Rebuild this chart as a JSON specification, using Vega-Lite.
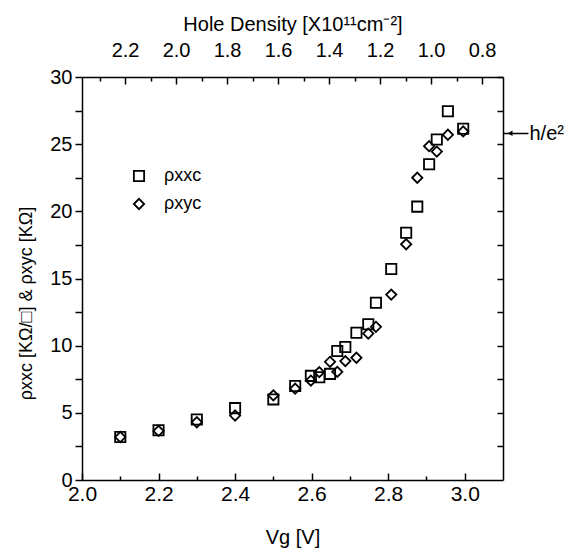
{
  "$schema": "https://vega.github.io/schema/vega-lite/v6.json",
  "width": 421,
  "height": 403,
  "autosize": {"type": "none"},
  "padding": {"left": 82, "top": 77, "right": 66, "bottom": 70},
  "background": "white",
  "config": {
    "view": {"stroke": null},
    "font": "Liberation Sans",
    "axis": {
      "grid": false,
      "domainColor": "black",
      "domainWidth": 1.5,
      "tickColor": "black",
      "tickWidth": 1.5,
      "labelColor": "black",
      "titleColor": "black",
      "labelFont": "Liberation Sans",
      "titleFont": "Liberation Sans",
      "titleFontWeight": "normal",
      "labelFlush": false,
      "labelOverlap": false
    },
    "legend": {"labelFont": "Liberation Sans"}
  },
  "datasets": {
    "points": [
      {"Vg": 2.1, "rho": 3.2, "quantity": "ρxxc"},
      {"Vg": 2.2, "rho": 3.7, "quantity": "ρxxc"},
      {"Vg": 2.3, "rho": 4.5, "quantity": "ρxxc"},
      {"Vg": 2.4, "rho": 5.35, "quantity": "ρxxc"},
      {"Vg": 2.5, "rho": 6.0, "quantity": "ρxxc"},
      {"Vg": 2.557, "rho": 7.0, "quantity": "ρxxc"},
      {"Vg": 2.598, "rho": 7.75, "quantity": "ρxxc"},
      {"Vg": 2.62, "rho": 7.65, "quantity": "ρxxc"},
      {"Vg": 2.648, "rho": 7.9, "quantity": "ρxxc"},
      {"Vg": 2.667, "rho": 9.6, "quantity": "ρxxc"},
      {"Vg": 2.688, "rho": 9.9, "quantity": "ρxxc"},
      {"Vg": 2.717, "rho": 10.96, "quantity": "ρxxc"},
      {"Vg": 2.748, "rho": 11.6, "quantity": "ρxxc"},
      {"Vg": 2.768, "rho": 13.2, "quantity": "ρxxc"},
      {"Vg": 2.808, "rho": 15.7, "quantity": "ρxxc"},
      {"Vg": 2.847, "rho": 18.4, "quantity": "ρxxc"},
      {"Vg": 2.876, "rho": 20.35, "quantity": "ρxxc"},
      {"Vg": 2.907, "rho": 23.5, "quantity": "ρxxc"},
      {"Vg": 2.927, "rho": 25.35, "quantity": "ρxxc"},
      {"Vg": 2.956, "rho": 27.45, "quantity": "ρxxc"},
      {"Vg": 2.996, "rho": 26.15, "quantity": "ρxxc"},
      {"Vg": 2.1, "rho": 3.2, "quantity": "ρxyc"},
      {"Vg": 2.2, "rho": 3.65, "quantity": "ρxyc"},
      {"Vg": 2.3, "rho": 4.3, "quantity": "ρxyc"},
      {"Vg": 2.4, "rho": 4.8, "quantity": "ρxyc"},
      {"Vg": 2.5, "rho": 6.3, "quantity": "ρxyc"},
      {"Vg": 2.557, "rho": 6.8, "quantity": "ρxyc"},
      {"Vg": 2.598, "rho": 7.4, "quantity": "ρxyc"},
      {"Vg": 2.62, "rho": 8.03, "quantity": "ρxyc"},
      {"Vg": 2.648, "rho": 8.8, "quantity": "ρxyc"},
      {"Vg": 2.667, "rho": 8.05, "quantity": "ρxyc"},
      {"Vg": 2.688, "rho": 8.85, "quantity": "ρxyc"},
      {"Vg": 2.717, "rho": 9.1, "quantity": "ρxyc"},
      {"Vg": 2.748, "rho": 10.9, "quantity": "ρxyc"},
      {"Vg": 2.768, "rho": 11.4, "quantity": "ρxyc"},
      {"Vg": 2.808, "rho": 13.8, "quantity": "ρxyc"},
      {"Vg": 2.847, "rho": 17.55, "quantity": "ρxyc"},
      {"Vg": 2.876, "rho": 22.5, "quantity": "ρxyc"},
      {"Vg": 2.907, "rho": 24.85, "quantity": "ρxyc"},
      {"Vg": 2.927, "rho": 24.45, "quantity": "ρxyc"},
      {"Vg": 2.956, "rho": 25.7, "quantity": "ρxyc"},
      {"Vg": 2.996, "rho": 25.95, "quantity": "ρxyc"}
    ],
    "quantum": [
      {"label": "h/e²", "rho": 25.81}
    ]
  },
  "layer": [
    {
      "data": {"name": "points"},
      "mark": {"type": "point", "filled": false, "strokeWidth": 1.8, "color": "black", "size": 105, "opacity": 1, "clip": false},
      "encoding": {
        "x": {
          "field": "Vg", "type": "quantitative",
          "scale": {"domain": [2.0, 3.1], "nice": false, "zero": false},
          "axis": {
            "orient": "bottom",
            "title": "Vg [V]",
            "titleFontSize": 20,
            "titlePadding": 20,
            "values": [2.0, 2.1, 2.2, 2.3, 2.4, 2.5, 2.6, 2.7, 2.8, 2.9, 3.0],
            "labelExpr": "round(datum.value*10) % 2 == 0 ? format(datum.value, '.1f') : ''",
            "labelFontSize": 21,
            "labelPadding": 10,
            "tickSize": {"condition": {"test": "round(datum.value*10) % 2 == 0", "value": -7}, "value": -4}
          }
        },
        "y": {
          "field": "rho", "type": "quantitative",
          "scale": {"domain": [0, 30], "nice": false, "zero": true},
          "axis": {
            "orient": "left",
            "title": "ρxxc [KΩ/□] & ρxyc [KΩ]",
            "titleFontSize": 18,
            "titlePadding": 14,
            "titleY": 226,
            "values": [0, 2.5, 5, 7.5, 10, 12.5, 15, 17.5, 20, 22.5, 25, 27.5, 30],
            "labelExpr": "datum.value % 5 == 0 ? format(datum.value, 'd') : ''",
            "labelFontSize": 20,
            "labelPadding": 3,
            "tickSize": 7
          }
        },
        "shape": {
          "field": "quantity", "type": "nominal",
          "scale": {"domain": ["ρxxc", "ρxyc"], "range": ["square", "diamond"]},
          "legend": {
            "orient": "none",
            "legendX": 48,
            "legendY": 90,
            "title": null,
            "labelFontSize": 18,
            "labelOffset": 16,
            "rowPadding": 10,
            "padding": 0,
            "symbolSize": 105,
            "symbolStrokeColor": "black",
            "symbolStrokeWidth": 1.8,
            "symbolFillColor": "transparent"
          }
        }
      }
    },
    {
      "data": {"name": "quantum"},
      "mark": {"type": "point", "shape": "triangle-left", "filled": true, "color": "black", "size": 30, "opacity": 1, "clip": false},
      "encoding": {
        "x": {
          "datum": 0.69, "type": "quantitative",
          "scale": {"domain": [0.718, 2.369], "reverse": true, "nice": false, "zero": false},
          "axis": {
            "orient": "top",
            "title": "Hole Density [X10¹¹cm⁻²]",
            "titleFontSize": 20,
            "titlePadding": 3,
            "values": [0.8, 0.9, 1.0, 1.1, 1.2, 1.3, 1.4, 1.5, 1.6, 1.7, 1.8, 1.9, 2.0, 2.1, 2.2, 2.3],
            "labelExpr": "round(datum.value*10) % 2 == 0 ? format(datum.value, '.1f') : ''",
            "labelFontSize": 20,
            "labelPadding": 24,
            "tickSize": {"condition": {"test": "round(datum.value*10) % 2 == 0", "value": -7}, "value": -4}
          }
        },
        "y": {
          "field": "rho", "type": "quantitative",
          "scale": {"domain": [0, 30], "nice": false, "zero": true},
          "axis": {
            "orient": "right",
            "title": null,
            "values": [2.5, 5, 7.5, 10, 12.5, 15, 17.5, 20, 22.5, 25, 25.81, 27.5, 30],
            "labelExpr": "datum.value == 25.81 ? 'h/e²' : ''",
            "labelFontSize": 20,
            "labelPadding": 1,
            "tickSize": {"condition": {"test": "datum.value == 25.81", "value": 25}, "value": -6}
          }
        }
      }
    }
  ],
  "resolve": {"scale": {"x": "independent", "y": "independent"}}
}
